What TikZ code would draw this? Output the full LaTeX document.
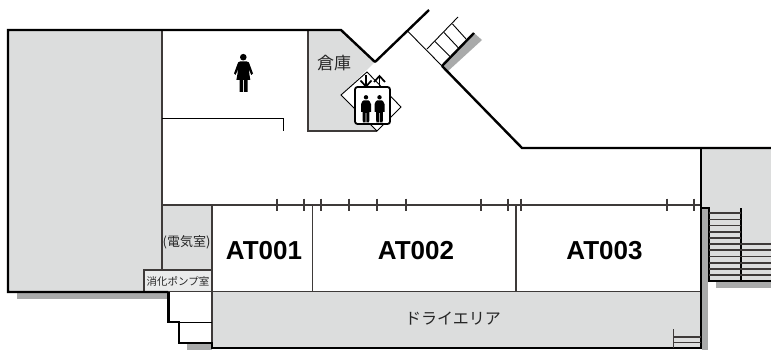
\documentclass[tikz,border=0pt]{standalone}
\usepackage{fontspec}
\setmainfont{Liberation Sans}
\newfontfamily\jp{Noto Sans CJK JP}
\definecolor{roomgray}{HTML}{DCDDDD}
\definecolor{shadowgray}{HTML}{A9AAAA}
\definecolor{linegray}{HTML}{3E3A39}
\newcommand{\pxfont}[1]{\fontsize{#1pt}{#1pt}\selectfont}
\tikzset{
  wall/.style={line width=2.4pt,black,line cap=butt,line join=miter},
  thin wall/.style={line width=1.2pt,linegray},
  hair/.style={line width=0.9pt,black},
  room/.style={fill=roomgray,draw=none},
  shadow/.style={fill=shadowgray,draw=none},
  rung/.style={line width=1.1pt,linegray},
  atlabel/.style={font=\pxfont{26}\bfseries,inner sep=0pt},
  jplabel/.style={inner sep=0pt,text=black!85},
}
\begin{document}
\begin{tikzpicture}[x=1pt,y=-1pt]
\useasboundingbox (0,0) rectangle (771,350);
\fill[white] (0,0) rectangle (771,350);
% shadows
\path[shadow] (17,292) rectangle (168,299);
\path[shadow] (187,343) rectangle (212,350);
\path[shadow] (702,208) rectangle (708,350);
\path[shadow] (716,281) rectangle (771,288);
\path[shadow] (442,66) -- (474,33) -- (482,40) -- (447,72) -- cycle;
% gray rooms
\path[room] (8,30) rectangle (162,292);
\path[room] (162,205) rectangle (212,270);
\path[room] (212,292) rectangle (701,348);
\path[room] (702,148) -- (771,148) -- (771,281) -- (709,281) -- (709,208) -- (702,208) -- cycle;
\path[room] (308,30) -- (341,30) -- (375,62) -- (341,95) -- (377,131) -- (308,131) -- cycle;
% pump room box
\draw[thin wall,fill=roomgray!60!white] (144,292) -- (144,270) -- (212,270) -- (212,292);
% inner lines
\draw[thin wall] (162,30) -- (162,270);
\draw[thin wall] (162,205) -- (701,205);
\draw[thin wall] (212,205) -- (212,345);
\draw[thin wall] (312.5,205) -- (312.5,292);
\draw[thin wall] (516,205) -- (516,292);
\draw[thin wall] (144,291.5) -- (701,291.5);
\draw[hair] (179,322) -- (212,322);
\draw[hair] (162,118) -- (283,118) -- (283,131);
\draw[thin wall] (308,30) -- (308,131) -- (377,131);
% ticks
\foreach \tx in {277,304,321,349,377,406,481,508,521,667,694}
  \draw[thin wall] (\tx,198.5) -- (\tx,211);
% outer walls
\draw[wall] (168,292) -- (8,292) -- (8,30) -- (341,30) -- (375,62);
\draw[wall] (375,62) -- (429,10);
\draw[hair] (407.5,31) -- (442,66);
\draw[wall] (442,66) -- (522,148) -- (771,148);
\draw[wall] (442,66) -- (474,33);
\draw[wall] (168.5,292) -- (168.5,322) -- (179,322) -- (179,343) -- (212,343) -- (212,348) -- (701,348);
\draw[wall] (701,148) -- (701,349);
\draw[wall] (701,208) -- (709,208) -- (709,281) -- (771,281);
% upper stair
\draw[hair] (427,49) -- (458,17);
\draw[hair] (435,41.5) -- (450,56.5);
\draw[hair] (444,32.5) -- (458.5,48);
\draw[hair] (452.5,24) -- (466.5,39.5);
% right stair
\draw[wall] (741,208) -- (741,281);
\foreach \ry in {213,219.3,225.3,238,244,250,256.3,269,275}
  \draw[rung] (709,\ry) -- (741,\ry);
\foreach \ry in {231.7,262.7}
  \draw[rung,line width=1.6pt] (709,\ry) -- (741,\ry);
\foreach \ry in {244,250,256.3,269,275}
  \draw[rung] (741,\ry) -- (771,\ry);
\draw[rung,line width=1.6pt] (741,262.7) -- (771,262.7);
% small stair
\draw[thin wall] (673.5,329) -- (673.5,348);
\draw[rung] (673.5,337) -- (701,337);
\draw[rung] (673.5,342.5) -- (701,342.5);
% elevator diamond
\draw[hair,fill=white] (341,95) -- (367,72) -- (401,107) -- (377,131) -- cycle;
% elevator symbol
\draw[line width=1.8pt,fill=white,rounded corners=2.5pt] (355,87) rectangle (390,124);
\foreach \px in {366,379.5}{
  \fill (\px,97.3) circle (2.2);
  \fill (\px-5,104) to[out=-90,in=180] (\px-2.5,100.5) -- (\px+2.5,100.5) to[out=0,in=-90] (\px+5,104)
    -- (\px+5,112) -- (\px+3.5,112) -- (\px+3.2,122.5) -- (\px+0.4,122.5) -- (\px+0.4,113)
    -- (\px-0.4,113) -- (\px-0.4,122.5) -- (\px-3.2,122.5) -- (\px-3.5,112) -- (\px-5,112) -- cycle;
}
\draw[line width=1.7pt] (366,75) -- (366,86);
\draw[line width=1.7pt] (360.5,80.5) -- (366,86.5) -- (371.5,80.5);
\draw[line width=1.7pt] (379.5,87) -- (379.5,76.5);
\draw[line width=1.7pt] (374,82) -- (379.5,76) -- (385,82);
% woman
\fill (243.3,57.2) circle (3.3);
\fill (240,61.5) -- (246.8,61.5) .. controls (248.5,61.5) and (249,62.5) .. (249.5,64)
  -- (253,73.5) -- (251.3,75) -- (248.6,69) -- (250.3,80) -- (247.5,80) -- (247.5,92) -- (244,92) -- (244,80)
  -- (243,80) -- (243,92) -- (239.5,92) -- (239.5,80) -- (236.4,80) -- (238.3,69)
  -- (235.5,75) -- (234,73.5) -- (237.5,64) .. controls (238,62.5) and (238.5,61.5) .. (240,61.5) -- cycle;
% labels
\node[atlabel] (at1) at (264,250.5) {AT001};
\node[atlabel] (at2) at (416,250.5) {AT002};
\node[atlabel] (at3) at (604.5,250.5) {AT003};
\node[jplabel,font=\jp\pxfont{17}] (soko) at (334,63) {倉庫};
\node[jplabel,font=\jp\pxfont{13}] (denki) at (186.5,242) {(電気室)};
\node[jplabel,font=\jp\pxfont{10.5}] (pump) at (178,281.5) {消化ポンプ室};
\node[jplabel,font=\jp\pxfont{16}] (dry) at (453,319) {ドライエリア};
\end{tikzpicture}
\end{document}
